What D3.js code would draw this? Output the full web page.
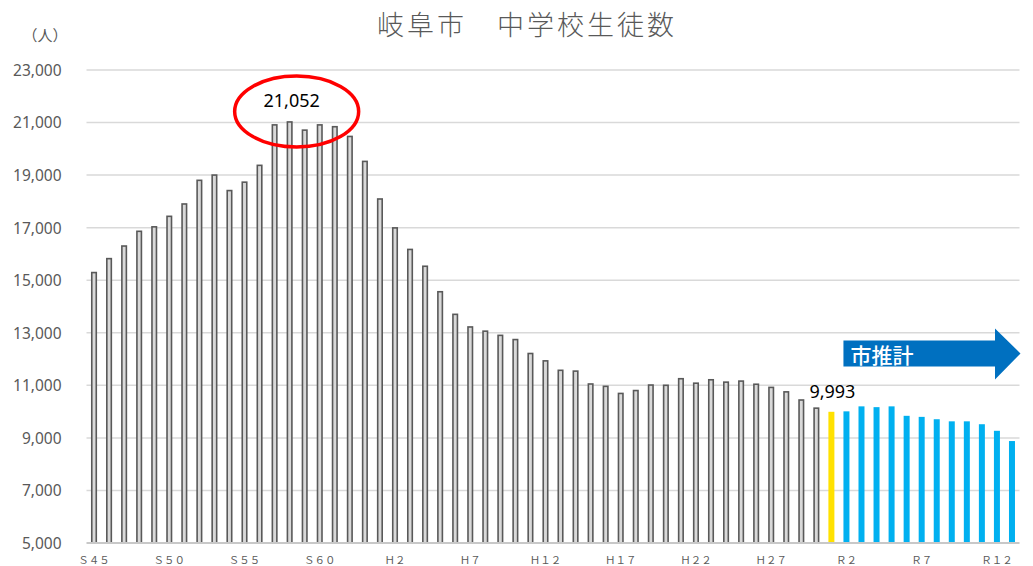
<!DOCTYPE html>
<html lang="ja">
<head>
<meta charset="utf-8">
<title>岐阜市　中学校生徒数</title>
<script src="https://cdn.jsdelivr.net/npm/d3@7/dist/d3.min.js"></script>
<style>
  html, body { margin: 0; padding: 0; background: #ffffff; }
  svg { display: block; }
  text { font-family: "Noto Sans", "Noto Sans CJK JP", sans-serif; }
</style>
</head>
<body>
<svg id="chart" width="1033" height="566"></svg>
<script>
// 実績（昭和45年〜平成30年）
const actualYears = [
  1970, 1971, 1972, 1973, 1974, 1975, 1976, 1977, 1978, 1979,
  1980, 1981, 1982, 1983, 1984, 1985, 1986, 1987, 1988, 1989,
  1990, 1991, 1992, 1993, 1994, 1995, 1996, 1997, 1998, 1999,
  2000, 2001, 2002, 2003, 2004, 2005, 2006, 2007, 2008, 2009,
  2010, 2011, 2012, 2013, 2014, 2015, 2016, 2017, 2018
];
const actualValues = [
  15320, 15850, 16330, 16890, 17060, 17460, 17930, 18830, 19030, 18440,
  18760, 19400, 20940, 21052, 20740, 20940, 20870, 20500, 19550, 18120,
  17020, 16200, 15560, 14590, 13730, 13250, 13090, 12930, 12770, 12240,
  11960, 11600, 11570, 11080, 10990, 10720, 10830, 11040, 11030, 11280,
  11110, 11240, 11150, 11190, 11070, 10950, 10780, 10470, 10160
];

// 令和元年（現在値）
const currentYears = [2019];
const currentValues = [9993];

// 市推計（令和2年〜令和13年）
const projectedYears = [2020, 2021, 2022, 2023, 2024, 2025, 2026, 2027, 2028, 2029, 2030, 2031];
const projectedValues = [10010, 10200, 10170, 10200, 9840, 9800, 9710, 9630, 9630, 9520, 9270, 8880];

// 軸ラベル
const yTickValues = [5000, 7000, 9000, 11000, 13000, 15000, 17000, 19000, 21000, 23000];
const xTickYears = [1970, 1975, 1980, 1985, 1990, 1995, 2000, 2005, 2010, 2015, 2020, 2025, 2030];
const xTickLabels = ["Ｓ４５", "Ｓ５０", "Ｓ５５", "Ｓ６０", "Ｈ２", "Ｈ７", "Ｈ１２", "Ｈ１７", "Ｈ２２", "Ｈ２７", "Ｒ２", "Ｒ７", "Ｒ１２"];

// 注記
const peakYear = 1983, peakValue = 21052;
const titleText = "岐阜市　中学校生徒数";
const unitText = "（人）";
const projectionText = "市推計";

const allYears = actualYears.concat(currentYears, projectedYears);

const svg = d3.select("#chart");
const plot = { left: 86.5, right: 1019.5, top: 70, bottom: 543 };

const x = d3.scaleBand().domain(allYears).range([plot.left, plot.right]).padding(0);
const barW = 6;
const cx = yr => x(yr) + x.bandwidth() / 2;
const y = d3.scaleLinear().domain([5000, 23000]).range([plot.bottom, plot.top]);

// 目盛線
svg.append("g")
  .selectAll("line")
  .data(yTickValues.slice(1))
  .join("line")
  .attr("x1", plot.left).attr("x2", plot.right)
  .attr("y1", d => y(d)).attr("y2", d => y(d))
  .attr("stroke", "#d9d9d9").attr("stroke-width", 1.5);

// Y軸
const yAxis = svg.append("g")
  .attr("transform", `translate(${plot.left - 22},0)`)
  .call(d3.axisLeft(y).tickValues(yTickValues).tickSize(0).tickFormat(d3.format(",")));
yAxis.select(".domain").remove();
yAxis.selectAll("text")
  .attr("fill", "#595959")
  .style("font-size", "15.5px")
  .style("font-family", "'Noto Sans', sans-serif")
  .attr("dy", "0.35em");

svg.append("text")
  .attr("x", 45).attr("y", 41)
  .attr("text-anchor", "middle")
  .attr("fill", "#595959")
  .style("font-family", "'Noto Sans CJK JP', sans-serif")
  .style("font-size", "15px")
  .text(unitText);

// 実績（灰色）
svg.append("g")
  .selectAll("rect")
  .data(actualYears.map((yr, i) => ({ yr, v: actualValues[i] })))
  .join("rect")
  .attr("x", d => cx(d.yr) - barW / 2 + 0.75)
  .attr("width", barW - 1.5)
  .attr("y", d => y(d.v) + 0.75)
  .attr("height", d => y(5000) - y(d.v) - 0.75)
  .attr("fill", "#d9d9d9")
  .attr("stroke", "#595959")
  .attr("stroke-width", 1.6);

// 現在値（黄色）
svg.append("g")
  .selectAll("rect")
  .data(currentYears.map((yr, i) => ({ yr, v: currentValues[i] })))
  .join("rect")
  .attr("x", d => cx(d.yr) - barW / 2)
  .attr("width", barW)
  .attr("y", d => y(d.v))
  .attr("height", d => y(5000) - y(d.v))
  .attr("fill", "#ffe100");

// 市推計（水色）
svg.append("g")
  .selectAll("rect")
  .data(projectedYears.map((yr, i) => ({ yr, v: projectedValues[i] })))
  .join("rect")
  .attr("x", d => cx(d.yr) - barW / 2)
  .attr("width", barW)
  .attr("y", d => y(d.v))
  .attr("height", d => y(5000) - y(d.v))
  .attr("fill", "#00b0f0");

// 横軸
svg.append("line")
  .attr("x1", plot.left).attr("x2", plot.right)
  .attr("y1", plot.bottom).attr("y2", plot.bottom)
  .attr("stroke", "#c8c8c8").attr("stroke-width", 2);

svg.append("g")
  .selectAll("text")
  .data(xTickYears.map((yr, i) => ({ yr, label: xTickLabels[i] })))
  .join("text")
  .attr("x", d => cx(d.yr))
  .attr("y", 564)
  .attr("text-anchor", "middle")
  .attr("fill", "#595959")
  .style("font-family", "'Noto Sans CJK JP', serif")
  .style("font-size", "10.5px")
  .text(d => d.label);

// タイトル
svg.append("text")
  .attr("x", 527).attr("y", 35)
  .attr("text-anchor", "middle")
  .attr("fill", "#595959")
  .style("font-family", "'Noto Sans CJK JP', sans-serif")
  .style("font-size", "27px")
  .style("font-weight", 300)
  .style("letter-spacing", "3px")
  .text(titleText);

// ピーク値の注記と赤い楕円
svg.append("text")
  .attr("x", cx(peakYear) + 2).attr("y", 106.5)
  .attr("text-anchor", "middle")
  .attr("fill", "#000000")
  .style("font-size", "18px")
  .text(d3.format(",")(peakValue));

svg.append("ellipse")
  .attr("cx", cx(peakYear) + 7).attr("cy", 111.5)
  .attr("rx", 62).attr("ry", 35.5)
  .attr("fill", "none")
  .attr("stroke", "#ff0000")
  .attr("stroke-width", 3.5);

// 現在値ラベル
svg.append("text")
  .attr("x", cx(currentYears[0]) + 1).attr("y", 398)
  .attr("text-anchor", "middle")
  .attr("fill", "#000000")
  .style("font-size", "18px")
  .text(d3.format(",")(currentValues[0]));

// 市推計の矢印
const arrowX0 = cx(projectedYears[0]) - 3;
const arrowTip = plot.right + 1;
const headX = arrowTip - 25.5;
svg.append("path")
  .attr("d", `M${arrowX0},340.5 L${headX},340.5 L${headX},328.5 L${arrowTip},353.5 L${headX},379.5 L${headX},366.5 L${arrowX0},366.5 Z`)
  .attr("fill", "#0070c0");

svg.append("text")
  .attr("x", arrowX0 + 7).attr("y", 363)
  .attr("fill", "#ffffff")
  .style("font-family", "'Noto Sans CJK JP', sans-serif")
  .style("font-size", "21px")
  .style("font-weight", 500)
  .text(projectionText);
</script>
</body>
</html>
